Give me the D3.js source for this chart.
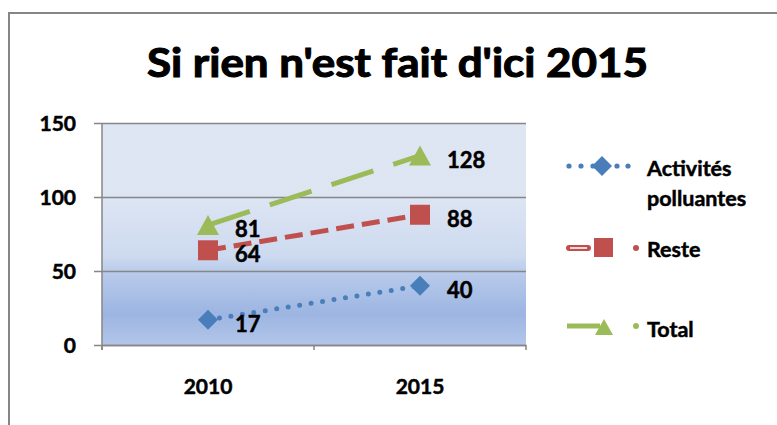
<!DOCTYPE html>
<html>
<head>
<meta charset="utf-8">
<script src="https://cdn.jsdelivr.net/npm/d3@7"></script>
<style>
  html, body { margin: 0; padding: 0; background: #fff; }
  svg { display: block; font-family: Lato, "Open Sans", sans-serif; font-weight: bold; }
  text { stroke: #000; stroke-width: 0.5px; }
</style>
</head>
<body>
<svg width="777" height="425"></svg>
<script>
const years = ['2010', '2015'];
const activites = [17, 40];
const reste = [64, 88];
const total = [81, 128];
const yTicks = [0, 50, 100, 150];

const series = [
  {name: 'Activités', name2: 'polluantes', values: activites, color: '#4a7ebb', marker: 'diamond'},
  {name: 'Reste', values: reste, color: '#c0504d', marker: 'square'},
  {name: 'Total', values: total, color: '#9bbb59', marker: 'triangle'}
];

const svg = d3.select('svg');
const margin = {top: 123, left: 102, right: 251, bottom: 80};
const width = +svg.attr('width');
const height = +svg.attr('height');

const xScale = d3.scaleBand().domain(years).range([margin.left, width - margin.right]);
const yScale = d3.scaleLinear().domain([0, 150]).range([height - margin.bottom, margin.top]);
const xPos = d => xScale(d) + xScale.bandwidth() / 2;

// outer frame of the chart
svg.append('path')
  .attr('d', `M9,430 V13 H790`)
  .attr('fill', 'none')
  .attr('stroke', '#868686')
  .attr('stroke-width', 2);

// title
svg.append('text')
  .attr('x', 147).attr('y', 77)
  .attr('font-size', 40)
  .attr('textLength', 501)
  .attr('lengthAdjust', 'spacingAndGlyphs')
  .style('stroke-width', '1.1px')
  .text("Si rien n'est fait d'ici 2015");

// plot background gradient
const grad = svg.append('defs').append('linearGradient')
  .attr('id', 'bg').attr('x1', 0).attr('y1', 0).attr('x2', 0).attr('y2', 1);
[[0, '#dee6f4'], [0.33, '#dde5f3'], [0.6, '#cddaef'], [0.67, '#b9cbeb'], [0.86, '#9cb5e1'], [1, '#b3c6ea']]
  .forEach(([o, c]) => grad.append('stop').attr('offset', o).attr('stop-color', c));

const [x0, x1] = xScale.range();
svg.append('rect')
  .attr('x', x0).attr('y', yScale(150))
  .attr('width', x1 - x0).attr('height', yScale(0) - yScale(150))
  .attr('fill', 'url(#bg)');

// y axis with gridlines
const yAxis = d3.axisLeft(yScale).tickValues(yTicks).tickSize(-(x1 - x0)).tickPadding(0);
const yG = svg.append('g').attr('transform', `translate(${x0},0)`).call(yAxis);
yG.select('.domain').remove();
yG.selectAll('.tick line').attr('stroke', '#868686').attr('stroke-width', 1.5).attr('x1', -8);
yG.selectAll('.tick text').attr('x', -26).attr('dy', '0.35em')
  .attr('font-size', 21).attr('font-family', 'Lato').attr('font-weight', 'bold').attr('fill', '#000');
svg.append('line')
  .attr('x1', x0).attr('x2', x0).attr('y1', yScale(150)).attr('y2', yScale(0) + 5)
  .attr('stroke', '#868686').attr('stroke-width', 1.5);

// x axis
const xAxis = d3.axisBottom(xScale).tickSize(0).tickPadding(34);
const xG = svg.append('g').attr('transform', `translate(0,${yScale(0)})`).call(xAxis);
xG.select('.domain').attr('stroke', '#868686').attr('stroke-width', 1.5);
xG.selectAll('.tick text').attr('font-size', 21).attr('font-family', 'Lato').attr('font-weight', 'bold').attr('fill', '#000');
svg.append('g').selectAll('line').data([x0, x0 + xScale.bandwidth(), x1]).enter().append('line')
  .attr('x1', d => d).attr('x2', d => d)
  .attr('y1', yScale(0)).attr('y2', yScale(0) + 5)
  .attr('stroke', '#868686').attr('stroke-width', 1.5);

// markers
const markerPath = (type, cx, cy) => {
  if (type === 'diamond') return `M${cx},${cy - 10}L${cx + 10},${cy}L${cx},${cy + 10}L${cx - 10},${cy}Z`;
  if (type === 'square') return `M${cx - 10},${cy - 10}h20v20h-20Z`;
  return `M${cx},${cy - 10}L${cx + 11},${cy + 10}L${cx - 11},${cy + 10}Z`;
};

const line = d3.line().x((d, i) => xPos(years[i])).y(d => yScale(d));
const dash = {diamond: '0,11.6', square: '18,8', triangle: '44,21'};

series.forEach(s => {
  svg.append('path')
    .datum(s.values)
    .attr('d', line)
    .attr('fill', 'none')
    .attr('stroke', s.color)
    .attr('stroke-width', 5)
    .attr('stroke-linecap', s.marker === 'diamond' ? 'round' : 'butt')
    .attr('stroke-dasharray', dash[s.marker]);

  svg.append('g').selectAll('path').data(s.values).enter().append('path')
    .attr('d', (d, i) => markerPath(s.marker, xPos(years[i]), yScale(d)))
    .attr('fill', s.color);

  svg.append('g').selectAll('text').data(s.values).enter().append('text')
    .attr('x', (d, i) => xPos(years[i]) + 27)
    .attr('y', d => yScale(d) + 12)
    .attr('font-size', 22)
    .text(d => d);
});

// legend
const legend = svg.append('g');
const legendY = [166, 248, 326];
const textY = [[176, 206], [257], [337]];

series.forEach((s, i) => {
  const y = legendY[i];
  const g = legend.append('g');
  if (s.marker === 'diamond') {
    g.selectAll('circle').data([569, 581, 593, 617, 628]).enter().append('circle')
      .attr('cx', d => d).attr('cy', y).attr('r', 2.6).attr('fill', s.color);
    g.append('path').attr('d', markerPath('diamond', 602, y)).attr('fill', s.color);
  } else if (s.marker === 'square') {
    g.append('line').attr('x1', 569).attr('x2', 588).attr('y1', y).attr('y2', y)
      .attr('stroke', s.color).attr('stroke-width', 6).attr('stroke-linecap', 'round');
    g.append('line').attr('x1', 570).attr('x2', 587).attr('y1', y).attr('y2', y)
      .attr('stroke', '#f4d6d5').attr('stroke-width', 2);
    g.append('rect').attr('x', 594).attr('y', y - 10).attr('width', 19).attr('height', 19).attr('fill', s.color);
    g.append('circle').attr('cx', 636).attr('cy', y).attr('r', 3).attr('fill', s.color);
  } else {
    g.append('line').attr('x1', 567).attr('x2', 600).attr('y1', y).attr('y2', y)
      .attr('stroke', s.color).attr('stroke-width', 5);
    g.append('path').attr('d', `M604,${y - 7}L613,${y + 9}L595,${y + 9}Z`).attr('fill', s.color);
    g.append('circle').attr('cx', 636).attr('cy', y).attr('r', 3).attr('fill', s.color);
  }
  const t = g.append('text').attr('x', 647).attr('font-size', 21.5);
  t.append('tspan').attr('x', 647).attr('y', textY[i][0]).text(s.name);
  if (s.name2) t.append('tspan').attr('x', 647).attr('y', textY[i][1]).text(s.name2);
});
</script>
</body>
</html>
